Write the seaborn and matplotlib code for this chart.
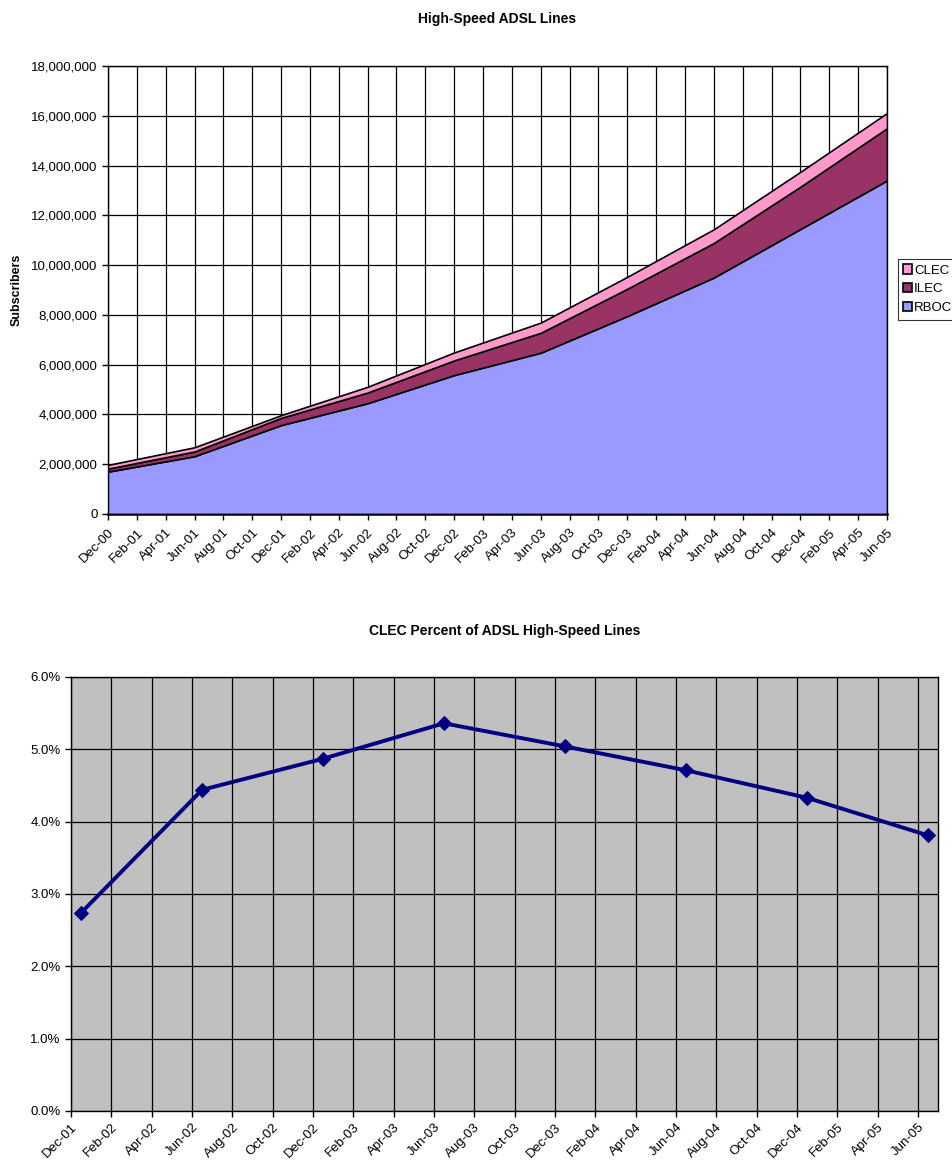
import numpy as np
import pandas as pd
import seaborn as sns
import matplotlib.pyplot as plt
from matplotlib.ticker import FuncFormatter

# ---- data ----
top_dates = ['Dec-00', 'Jun-01', 'Dec-01', 'Jun-02', 'Dec-02',
             'Jun-03', 'Dec-03', 'Jun-04', 'Dec-04', 'Jun-05']
rboc = [1700000, 2320000, 3570000, 4450000, 5580000,
        6480000, 7950000, 9500000, 11450000, 13400000]
ilec = [120000, 190000, 290000, 430000, 590000,
        800000, 1100000, 1390000, 1700000, 2100000]
clec = [150000, 170000, 110000, 230000, 320000,
        410000, 480000, 550000, 600000, 610000]

pct_dates = ['Dec-01', 'Jun-02', 'Dec-02', 'Jun-03',
             'Dec-03', 'Jun-04', 'Dec-04', 'Jun-05']
clec_pct = [0.0274, 0.0444, 0.0487, 0.0536, 0.0504, 0.0471, 0.0433, 0.0381]


def month_index(labels, start):
    d = pd.to_datetime(pd.Series(labels), format='%b-%y')
    s = pd.to_datetime(start, format='%b-%y')
    return ((d.dt.year - s.year) * 12 + (d.dt.month - s.month)).to_numpy()


sns.set_style("white")
plt.rcParams['font.family'] = ['Liberation Sans', 'DejaVu Sans']
plt.rcParams['font.size'] = 9
for k in ['text.color', 'axes.labelcolor', 'xtick.color', 'ytick.color']:
    plt.rcParams[k] = 'black'

fig = plt.figure(figsize=(9.52, 11.62), dpi=100)

# ---- top chart: stacked area ----
ax1 = fig.add_axes([0.1134, 0.5577, 0.8183, 0.3855])
x1 = month_index(top_dates, 'Dec-00')
polys = ax1.stackplot(x1, rboc, ilec, clec, labels=['RBOC', 'ILEC', 'CLEC'],
                      colors=['#9999FF', '#993366', '#FF99CC'],
                      edgecolor='black', linewidth=1.2, zorder=3)
tick_dates1 = pd.date_range('2000-12-01', '2005-06-01', freq='2MS')
ticks1 = month_index(tick_dates1.strftime('%b-%y'), 'Dec-00')
ax1.set_xlim(ticks1[0], ticks1[-1])
ax1.set_ylim(0, 18000000)
ax1.set_xticks(ticks1)
ax1.set_xticklabels(tick_dates1.strftime('%b-%y'), rotation=45, ha='right',
                    rotation_mode='anchor')
ax1.set_yticks(np.arange(0, 18000001, 2000000))
ax1.yaxis.set_major_formatter(FuncFormatter(lambda v, p: f'{v:,.0f}'))
ax1.grid(True, color='black', linewidth=0.9, zorder=0)
ax1.set_axisbelow(True)
ax1.tick_params(axis='both', direction='out', length=4, width=1,
                color='black', labelsize=9.5, bottom=True, left=True)
ax1.tick_params(axis='x', pad=5)
for s in ax1.spines.values():
    s.set_color('black')
    s.set_linewidth(1)
ax1.spines['bottom'].set_linewidth(1.8)
ax1.set_ylabel('Subscribers', fontweight='bold', fontsize=9, labelpad=6)
ax1.set_title('High-Speed ADSL Lines', fontweight='bold', fontsize=10, pad=31)
leg = fig.legend(polys[::-1], ['CLEC', 'ILEC', 'RBOC'], loc='center left',
                 bbox_to_anchor=(0.943, 0.751), frameon=True, fancybox=False,
                 edgecolor='black', fontsize=9.5, handlelength=0.7,
                 handleheight=0.7, handletextpad=0.15, borderpad=0.4,
                 labelspacing=0.5, borderaxespad=0)
leg.get_frame().set_linewidth(0.8)

# ---- bottom chart: CLEC share ----
ax2 = fig.add_axes([0.0746, 0.0439, 0.9107, 0.3735])
ax2.set_facecolor('#C0C0C0')
x2 = month_index(pct_dates, 'Dec-01') + 0.5
sns.lineplot(x=x2, y=clec_pct, ax=ax2, color='#000080', linewidth=2.8,
             marker='D', markersize=7, markeredgecolor='#000080', zorder=3)
tick_dates2 = pd.date_range('2001-12-01', '2005-06-01', freq='2MS')
ticks2 = month_index(tick_dates2.strftime('%b-%y'), 'Dec-01')
ax2.set_xlim(0, ticks2[-1] + 1)
ax2.set_ylim(0, 0.06)
ax2.set_xticks(ticks2)
ax2.set_xticklabels(tick_dates2.strftime('%b-%y'), rotation=45, ha='right',
                    rotation_mode='anchor')
ax2.set_yticks(np.arange(0, 0.0601, 0.01))
ax2.yaxis.set_major_formatter(FuncFormatter(lambda v, p: f'{v * 100:.1f}%'))
ax2.grid(True, color='black', linewidth=0.9, zorder=0)
ax2.set_axisbelow(True)
ax2.tick_params(axis='both', direction='out', length=4, width=1,
                color='black', labelsize=9.5, bottom=True, left=True)
for s in ax2.spines.values():
    s.set_color('black')
    s.set_linewidth(1)
ax2.set_title('CLEC Percent of ADSL High-Speed Lines', fontweight='bold',
              fontsize=10, pad=30)

fig.savefig('out.png', dpi=100)
